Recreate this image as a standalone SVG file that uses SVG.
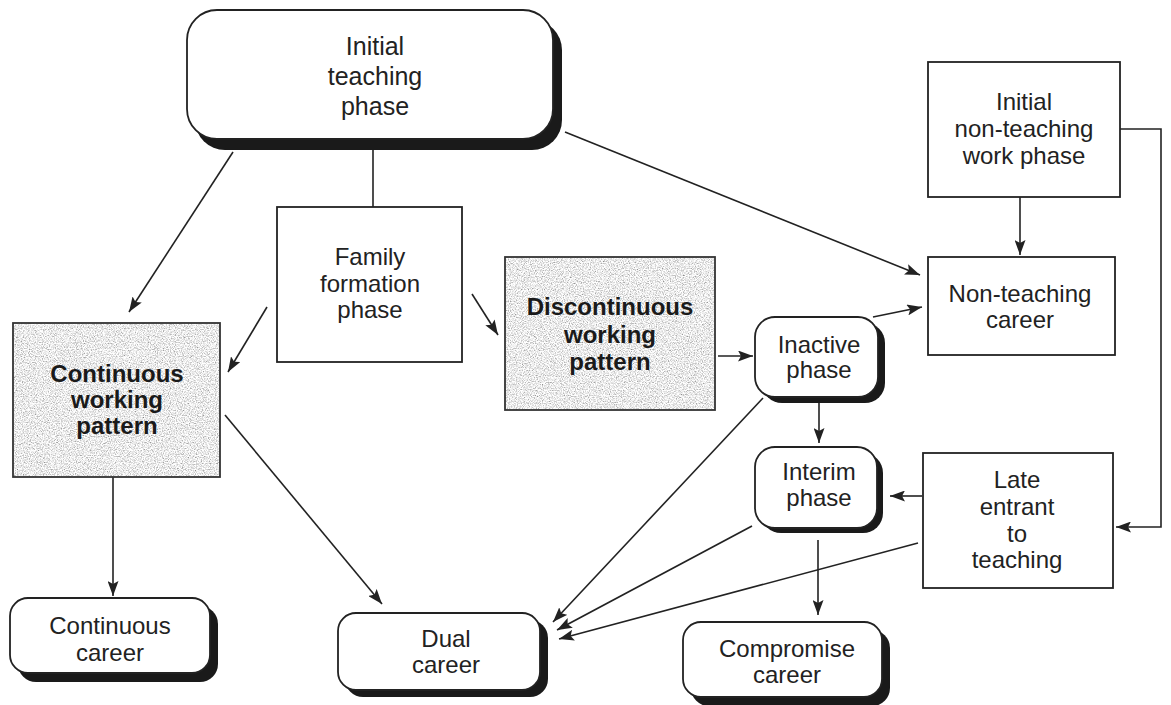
<svg xmlns="http://www.w3.org/2000/svg" width="1171" height="705" viewBox="0 0 1171 705">
<style>
  .box { fill: #ffffff; stroke: #222; stroke-width: 1.8; }
  .shadow { fill: #1a1a1a; stroke: none; }
  .grey { fill: #c9c9c9; stroke: none; }
  .greyedge { fill: none; stroke: #333; stroke-width: 1.8; }
  text { font-family: "Liberation Sans", Arial, Helvetica, sans-serif; fill: #222; text-anchor: middle; font-size: 24px; }
  .big { font-size: 25px; }
  .bold { font-weight: bold; fill: #1a1a1a; }
  .conn line, .conn polyline { stroke: #222; stroke-width: 1.6; fill: none; }
  .arr { marker-end: url(#ah); }
</style>
<defs>
  <marker id="ah" markerUnits="userSpaceOnUse" markerWidth="16" markerHeight="11" refX="15" refY="5.5" orient="auto">
    <path d="M0,0 L15,5.5 L0,11 L3,5.5 z" fill="#222"/>
  </marker>
  <filter id="speckle" x="0" y="0" width="1" height="1" filterUnits="objectBoundingBox">
    <feTurbulence type="fractalNoise" baseFrequency="0.85" numOctaves="2" seed="7" result="n"/>
    <feColorMatrix in="n" type="matrix" values="1.5 0 0 0 0.08  1.5 0 0 0 0.08  1.5 0 0 0 0.08  0 0 0 0 1"/>
  </filter>
</defs>
<rect width="1171" height="705" fill="#ffffff"/>

<g class="conn">
  <line class="arr" x1="233" y1="152" x2="129" y2="312"/>
  <line x1="373" y1="148" x2="373" y2="207"/>
  <line class="arr" x1="267" y1="307" x2="228" y2="372"/>
  <line class="arr" x1="472" y1="294" x2="498" y2="335"/>
  <line class="arr" x1="565" y1="132" x2="920" y2="275"/>
  <line class="arr" x1="718" y1="356" x2="753" y2="356"/>
  <line class="arr" x1="873" y1="317" x2="922" y2="307"/>
  <line class="arr" x1="819" y1="403" x2="819" y2="443"/>
  <line class="arr" x1="1020" y1="197" x2="1020" y2="255"/>
  <polyline class="arr" points="1120,129 1161,129 1161,527 1116,527"/>
  <line class="arr" x1="922" y1="496" x2="890" y2="496"/>
  <line class="arr" x1="818" y1="540" x2="818" y2="615"/>
  <line class="arr" x1="113" y1="477" x2="113" y2="596"/>
  <line class="arr" x1="225" y1="415" x2="382" y2="604"/>
  <line class="arr" x1="763" y1="398" x2="553" y2="622"/>
  <line class="arr" x1="752" y1="526" x2="557" y2="630"/>
  <line class="arr" x1="918" y1="543" x2="559" y2="639"/>
</g>

<g id="initial-teaching">
  <rect class="shadow" x="195" y="20" width="367" height="130" rx="30"/>
  <rect class="box" x="187" y="10" width="366" height="129" rx="30"/>
  <text class="big" x="375" y="55">Initial</text>
  <text class="big" x="375" y="85">teaching</text>
  <text class="big" x="375" y="115">phase</text>
</g>

<g id="family-formation">
  <rect class="box" x="277" y="207" width="185" height="155"/>
  <text x="370" y="265">Family</text>
  <text x="370" y="292">formation</text>
  <text x="370" y="318">phase</text>
</g>

<g id="continuous-working">
  <rect class="grey" x="13" y="323" width="207" height="154" filter="url(#speckle)"/>
  <rect class="greyedge" x="13" y="323" width="207" height="154"/>
  <text class="bold" x="117" y="382">Continuous</text>
  <text class="bold" x="117" y="408">working</text>
  <text class="bold" x="117" y="434">pattern</text>
</g>

<g id="discontinuous-working">
  <rect class="grey" x="505" y="257" width="210" height="153" filter="url(#speckle)"/>
  <rect class="greyedge" x="505" y="257" width="210" height="153"/>
  <text class="bold" x="610" y="315">Discontinuous</text>
  <text class="bold" x="610" y="343">working</text>
  <text class="bold" x="610" y="370">pattern</text>
</g>

<g id="inactive">
  <rect class="shadow" x="762" y="323" width="123" height="80" rx="20"/>
  <rect class="box" x="755" y="317" width="123" height="80" rx="20"/>
  <text x="819" y="353">Inactive</text>
  <text x="819" y="378">phase</text>
</g>

<g id="interim">
  <rect class="shadow" x="761" y="453" width="122" height="80" rx="20"/>
  <rect class="box" x="755" y="447" width="122" height="81" rx="20"/>
  <text x="819" y="480">Interim</text>
  <text x="819" y="506">phase</text>
</g>

<g id="initial-non-teaching">
  <rect class="box" x="928" y="62" width="192" height="135"/>
  <text x="1024" y="110">Initial</text>
  <text x="1024" y="137">non-teaching</text>
  <text x="1024" y="164">work phase</text>
</g>

<g id="non-teaching-career">
  <rect class="box" x="928" y="257" width="187" height="98"/>
  <text x="1020" y="302">Non-teaching</text>
  <text x="1020" y="328">career</text>
</g>

<g id="late-entrant">
  <rect class="box" x="923" y="453" width="190" height="135"/>
  <text x="1017" y="488">Late</text>
  <text x="1017" y="515">entrant</text>
  <text x="1017" y="542">to</text>
  <text x="1017" y="568">teaching</text>
</g>

<g id="continuous-career">
  <rect class="shadow" x="18" y="606" width="200" height="76" rx="18"/>
  <rect class="box" x="10" y="598" width="200" height="75" rx="18"/>
  <text x="110" y="634">Continuous</text>
  <text x="110" y="661">career</text>
</g>

<g id="dual-career">
  <rect class="shadow" x="345" y="620" width="203" height="77" rx="18"/>
  <rect class="box" x="338" y="613" width="202" height="77" rx="18"/>
  <text x="446" y="647">Dual</text>
  <text x="446" y="673">career</text>
</g>

<g id="compromise-career">
  <rect class="shadow" x="691" y="630" width="199" height="76" rx="18"/>
  <rect class="box" x="683" y="622" width="199" height="75" rx="18"/>
  <text x="787" y="657">Compromise</text>
  <text x="787" y="683">career</text>
</g>
</svg>
